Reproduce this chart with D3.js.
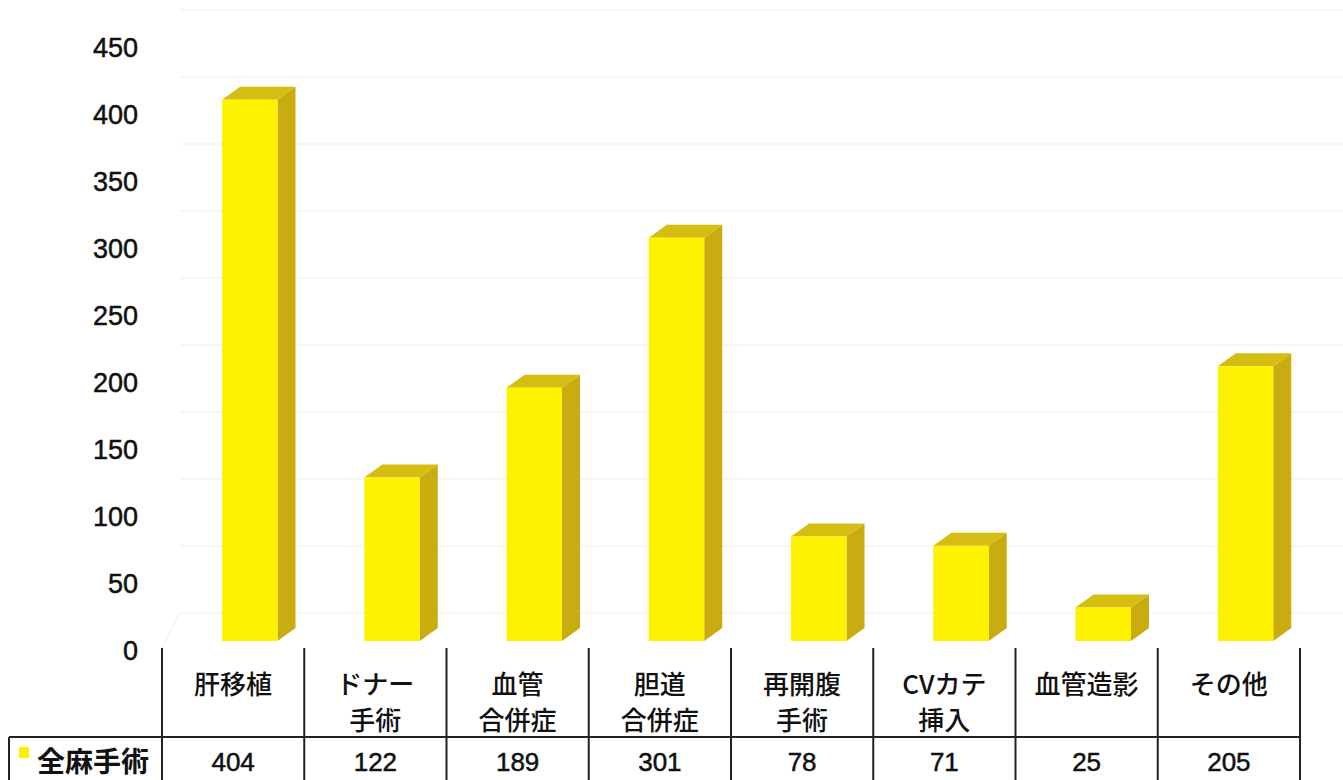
<!DOCTYPE html>
<html lang="ja">
<head>
<meta charset="utf-8">
<script src="https://cdn.jsdelivr.net/npm/d3@7"></script>
<style>
  html, body { margin: 0; padding: 0; background: #ffffff; }
  svg { display: block; }
  text { font-family: "Liberation Sans", Arial, "Noto Sans CJK JP", sans-serif; fill: #111; }
  .num { stroke: #111; stroke-width: 0.5px; }
  .cjk { font-family: "Noto Sans CJK JP", "Noto Sans CJK SC", sans-serif; }
</style>
</head>
<body>
<svg id="chart" width="1343" height="780"></svg>
<script>
// Categories (multi-line labels), series and values
const categories = [
  ["肝移植"],
  ["ドナー", "手術"],
  ["血管", "合併症"],
  ["胆道", "合併症"],
  ["再開腹", "手術"],
  ["CVカテ", "挿入"],
  ["血管造影"],
  ["その他"]
];
const seriesName = "全麻手術";
const values = [404, 122, 189, 301, 78, 71, 25, 205];
const yTicks = [0, 50, 100, 150, 200, 250, 300, 350, 400, 450];

const svg = d3.select("#chart");

// Scales
const x = d3.scaleBand()
  .domain(d3.range(categories.length))
  .range([162, 1300])
  .padding(0);
const y = d3.scaleLinear().domain([0, 450]).range([641, 38]);

const bw = x.bandwidth();
const faceOffset = bw * 0.422;   // front face starts this far into the band
const faceWidth = bw * 0.39;
const depthX = 18, depthY = 13;  // 3D depth of each column
const wallX = 18, wallY = 28;    // back wall offset for gridlines

const colFront = "#fff200";
const colSide = "#c8ac10";
const colTop = "#d6bd12";

// Back wall gridlines (very faint)
svg.append("g")
  .selectAll("line")
  .data(yTicks)
  .join("line")
  .attr("x1", 162 + wallX)
  .attr("x2", 1343)
  .attr("y1", d => y(d) - wallY)
  .attr("y2", d => y(d) - wallY)
  .attr("stroke", "#f3f3f3")
  .attr("stroke-width", 1.5);

// Faint floor edge at the left
svg.append("line")
  .attr("stroke", "#f0f0f0").attr("stroke-width", 1.2)
  .attr("x1", 162).attr("y1", y(0) + 6)
  .attr("x2", 162 + wallX).attr("y2", y(0) - wallY);

// Y-axis labels
svg.append("g")
  .selectAll("text")
  .data(yTicks)
  .join("text")
  .attr("class", "num")
  .attr("x", 138)
  .attr("y", d => y(d) + 12)
  .attr("text-anchor", "end")
  .attr("dominant-baseline", "middle")
  .attr("font-size", 27)
  .text(d => d);

// 3D columns
const bars = svg.append("g")
  .selectAll("g")
  .data(values)
  .join("g");

bars.each(function(v, i) {
  const g = d3.select(this);
  const x0 = x(i) + faceOffset;
  const x1 = x0 + faceWidth;
  const yt = y(v);
  const yb = y(0);
  // side face
  g.append("path")
    .attr("d", `M${x1},${yb} L${x1 + depthX},${yb - depthY} L${x1 + depthX},${yt - depthY} L${x1},${yt} Z`)
    .attr("fill", colSide);
  // top face
  g.append("path")
    .attr("d", `M${x0},${yt} L${x0 + depthX},${yt - depthY} L${x1 + depthX},${yt - depthY} L${x1},${yt} Z`)
    .attr("fill", colTop);
  // front face
  g.append("rect")
    .attr("x", x0)
    .attr("y", yt)
    .attr("width", faceWidth)
    .attr("height", yb - yt)
    .attr("fill", colFront);
});

// Data table
const table = svg.append("g").attr("stroke", "#222").attr("stroke-width", 2);
const tableTop = 648, rowLine = 737, tableBottom = 780;
// vertical lines of category row and data row
d3.range(categories.length + 1).forEach(i => {
  const xv = i < categories.length ? x(i) : x.range()[1];
  table.append("line")
    .attr("x1", xv).attr("x2", xv)
    .attr("y1", tableTop).attr("y2", tableBottom);
});
// horizontal line between category row and data row
table.append("line")
  .attr("x1", 9).attr("x2", x.range()[1])
  .attr("y1", rowLine).attr("y2", rowLine);
// left border of series-name cell
table.append("line")
  .attr("x1", 9).attr("x2", 9)
  .attr("y1", rowLine).attr("y2", tableBottom);

// Category labels
const catLabels = svg.append("g")
  .selectAll("text")
  .data(categories)
  .join("text")
  .attr("class", "cjk")
  .attr("text-anchor", "middle")
  .attr("font-size", 26)
  .attr("font-weight", 500)
  .attr("x", (d, i) => x(i) + bw / 2);
catLabels.selectAll("tspan")
  .data(d => d)
  .join("tspan")
  .attr("x", function() { return d3.select(this.parentNode).attr("x"); })
  .attr("y", (d, j) => 694 + j * 36)
  .text(d => d);

// Series name with legend key
svg.append("rect")
  .attr("x", 19).attr("y", 747)
  .attr("width", 10).attr("height", 11)
  .attr("fill", colFront);
svg.append("text")
  .attr("class", "cjk")
  .attr("x", 37)
  .attr("y", 772)
  .attr("font-size", 28)
  .attr("font-weight", 700)
  .text(seriesName);

// Values in the data row
svg.append("g")
  .selectAll("text")
  .data(values)
  .join("text")
  .attr("class", "num")
  .attr("x", (d, i) => x(i) + bw / 2)
  .attr("y", 771)
  .attr("text-anchor", "middle")
  .attr("font-size", 26)
  .text(d => d);
</script>
</body>
</html>
